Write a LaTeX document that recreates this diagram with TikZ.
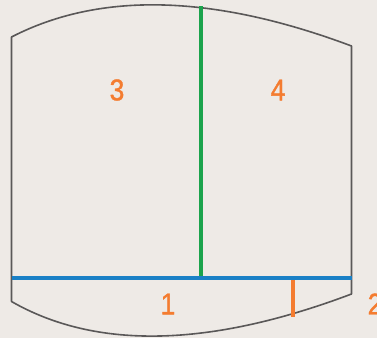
\documentclass[tikz,border=0pt]{standalone}
\usepackage{fontspec}
\setmainfont{Liberation Sans}
\newfontfamily\zonefont[FakeBold=1.2, FakeStretch=0.88]{Liberation Sans}
\usepackage{tikz}
\usepackage{xcolor}
\usetikzlibrary{calc}
\definecolor{PaperBg}{HTML}{EEEAE6}
\definecolor{OutlineGray}{HTML}{5A5858}
\definecolor{LineGreen}{HTML}{1BA34C}
\definecolor{LineBlue}{HTML}{1A80C6}
\definecolor{TagOrange}{HTML}{F47C30}

\begin{document}
\begin{tikzpicture}[x=1pt, y=-1pt,
  outline/.style={draw=OutlineGray, line width=1.6pt, line join=round},
  cutline/.style={line width=4.8pt},
  zonelabel/.style={text=TagOrange, inner sep=0pt, font=\zonefont\fontsize{30}{30}\selectfont}]
% --- Page frame ---
\fill[PaperBg] (0,0) rectangle (377,338);
\useasboundingbox (0,0) rectangle (377,338);
% --- Corners of the outline ---
\coordinate (topL) at (11.5,37);
\coordinate (topR) at (351.5,46);
\coordinate (botL) at (11.5,301.5);
\coordinate (botR) at (351.5,294);
% Curved top and bottom edges
\draw[outline] (botL) -- (topL)
  .. controls (100.2,-8.7) and (213.5,-5.7) .. (topR)
  -- (botR)
  .. controls (209.5,347.5) and (96.2,350) .. (botL);
% --- Cut lines ---
\coordinate (blueL) at (11.5,278);
\coordinate (blueR) at (351.5,278);
\coordinate (greenT) at (201,6);
\coordinate (greenB) at (201,276);
\coordinate (tickT) at (293,280);
\coordinate (tickB) at (293,317);
\draw[cutline, LineGreen] (greenT) -- (greenB);
\draw[cutline, LineBlue] (blueL) -- (blueR);
\draw[cutline, TagOrange] (tickT) -- (tickB);
% --- Zone numbers ---
\node[zonelabel] (z3) at (117,90) {3};
\node[zonelabel] (z4) at (278,90) {4};
\node[zonelabel] (z1) at (168,304) {1};
\node[zonelabel] (z2) at (375,304) {2};
\end{tikzpicture}
\end{document}
